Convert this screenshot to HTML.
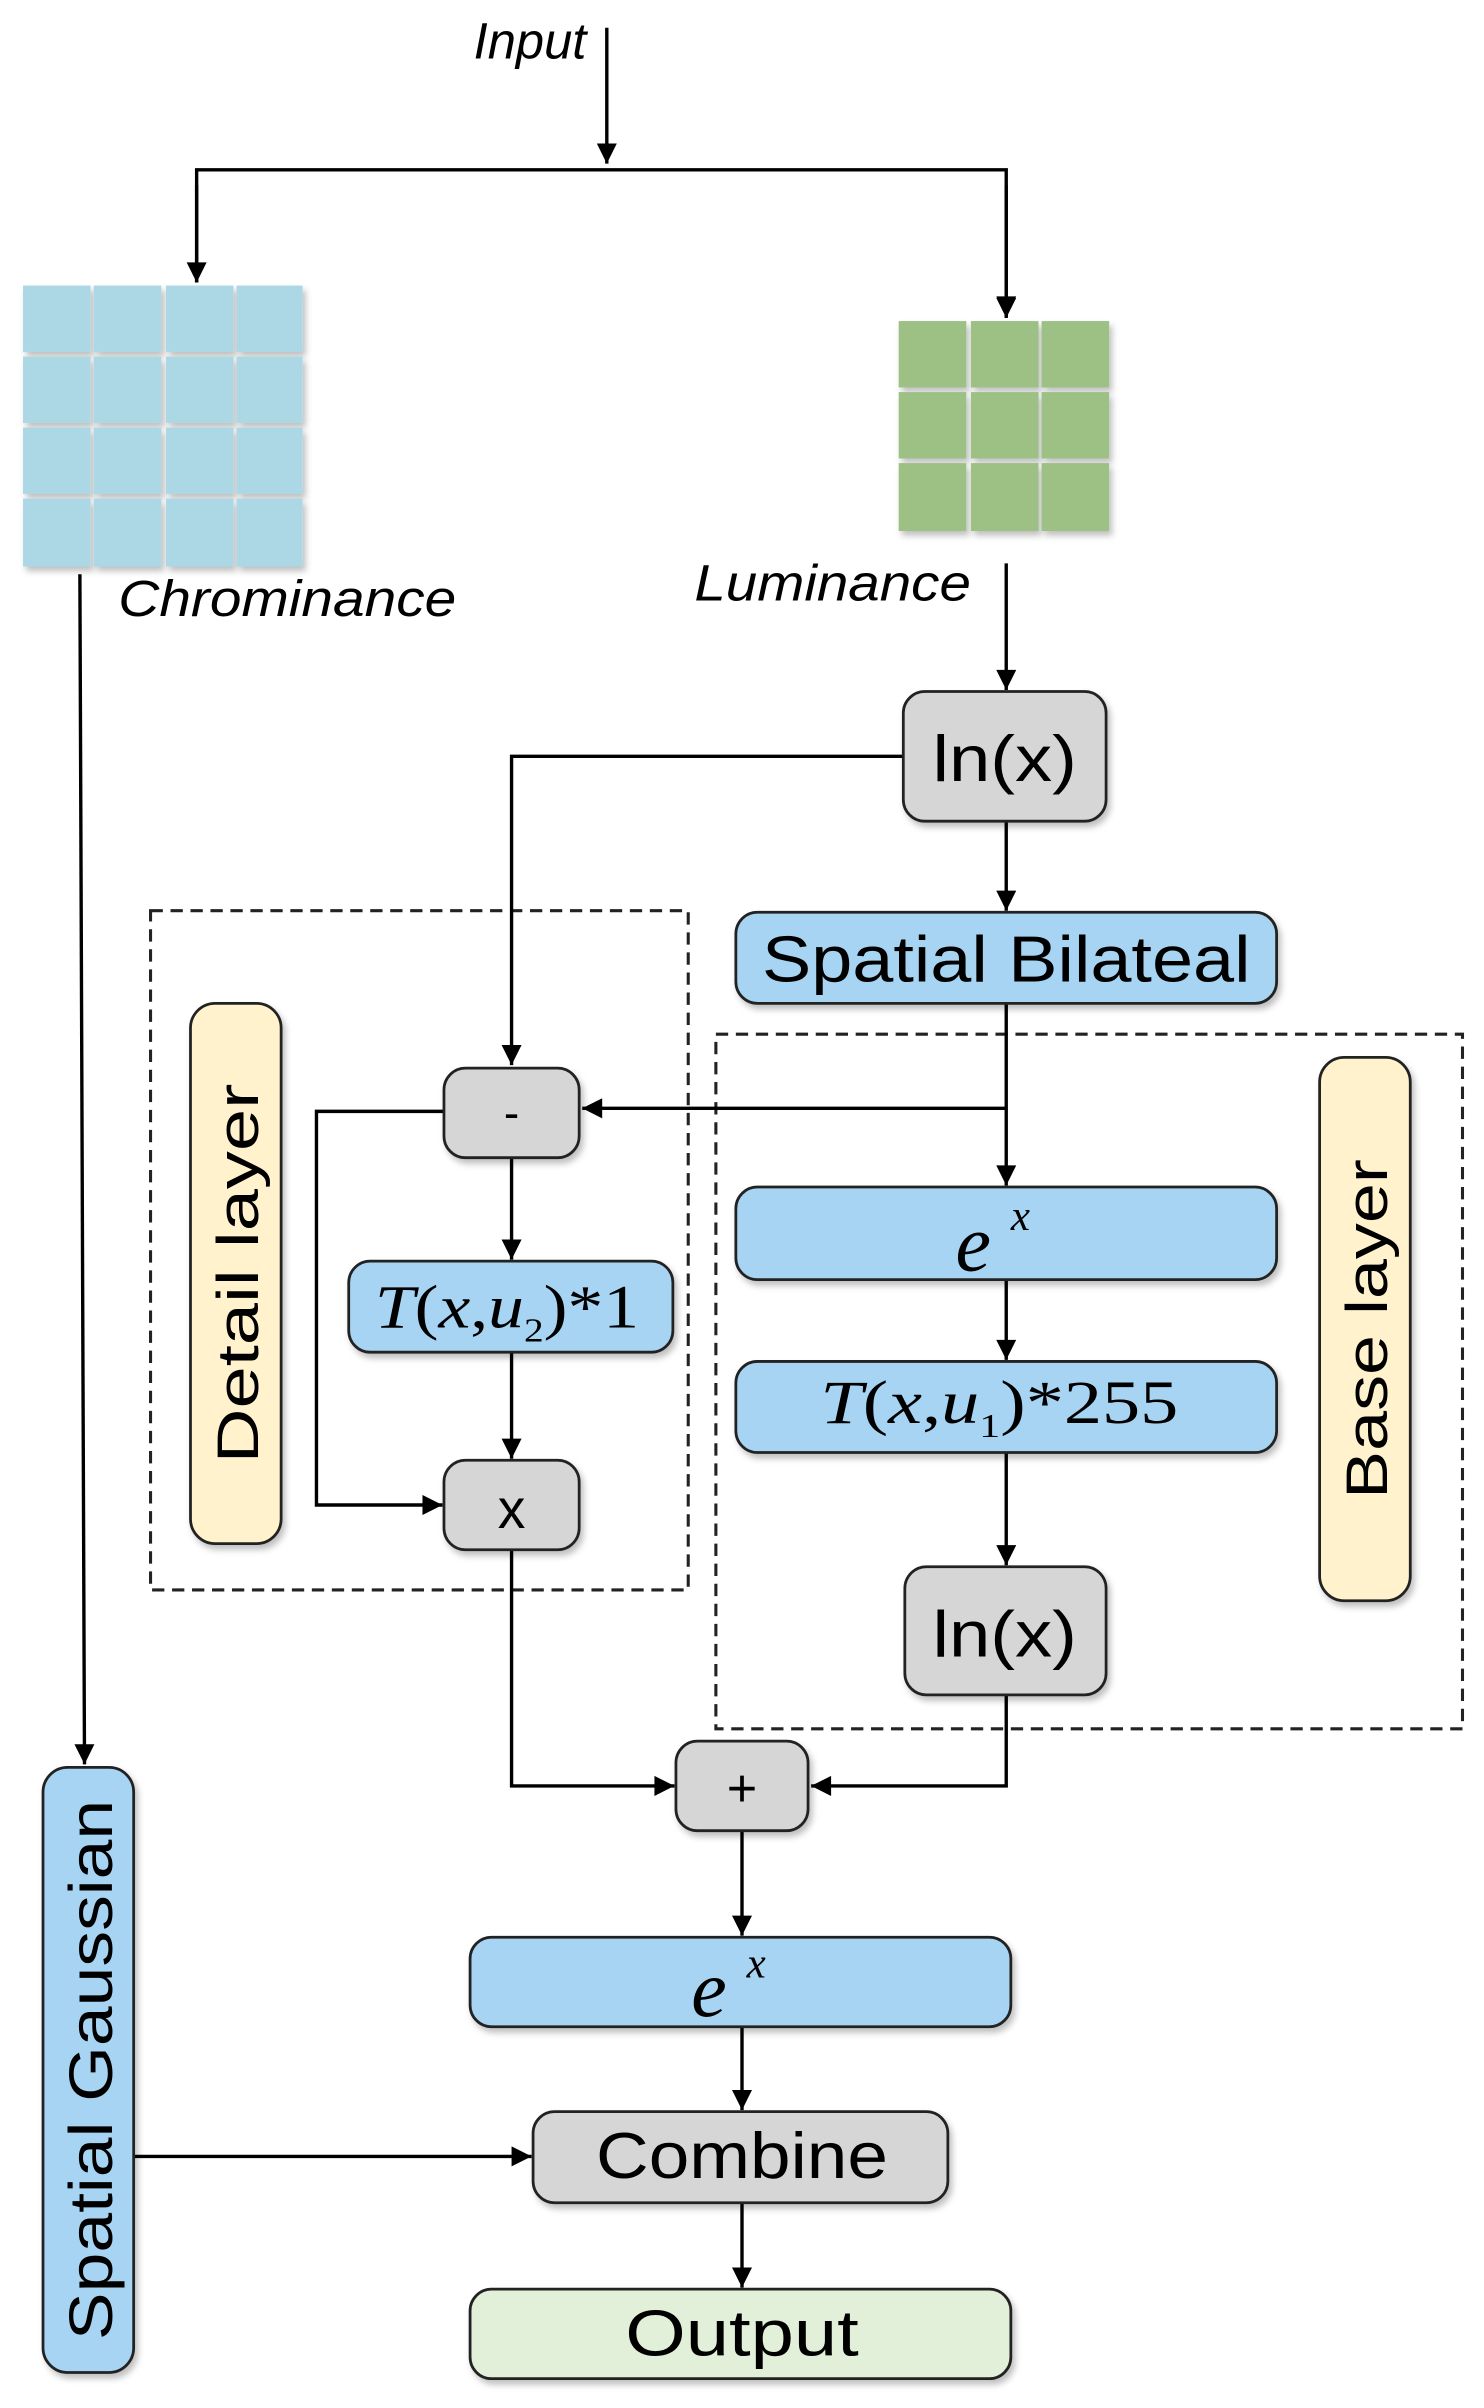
<!DOCTYPE html>
<html><head><meta charset="utf-8"><style>
html,body{margin:0;padding:0;background:#fff;}
svg{display:block;}
</style></head><body>
<svg width="1484" height="2408" viewBox="0 0 966 1560" preserveAspectRatio="none" xmlns="http://www.w3.org/2000/svg">
<defs>
<marker id="a" viewBox="0 0 10 10" refX="10" refY="5" markerWidth="15" markerHeight="13" markerUnits="userSpaceOnUse" orient="auto"><path d="M0,0 L10,5 L0,10 z" fill="#000"/></marker>
<filter id="sh" x="-10%" y="-10%" width="130%" height="140%"><feDropShadow dx="2" dy="3" stdDeviation="2" flood-color="#000" flood-opacity="0.25"/></filter>
</defs>
<g font-family="Liberation Sans, sans-serif">
<text x="345" y="38" font-size="33" font-style="italic" text-anchor="middle">Input</text>
<g stroke="#000" stroke-width="2.2" fill="none">
<line x1="395" y1="18" x2="395" y2="106" marker-end="url(#a)"/>
<polyline points="128,183 128,110 655,110 655,205" marker-end="url(#a)"/>
<line x1="128" y1="120" x2="128" y2="183" marker-end="url(#a)"/>
<line x1="655" y1="120" x2="655" y2="206" marker-end="url(#a)"/>
</g>
<g fill="#acd7e5" filter="url(#sh)">
<rect x="15" y="185" width="44" height="43"/><rect x="61" y="185" width="44" height="43"/><rect x="108" y="185" width="44" height="43"/><rect x="154" y="185" width="43" height="43"/>
<rect x="15" y="231" width="44" height="43"/><rect x="61" y="231" width="44" height="43"/><rect x="108" y="231" width="44" height="43"/><rect x="154" y="231" width="43" height="43"/>
<rect x="15" y="277" width="44" height="43"/><rect x="61" y="277" width="44" height="43"/><rect x="108" y="277" width="44" height="43"/><rect x="154" y="277" width="43" height="43"/>
<rect x="15" y="323" width="44" height="44"/><rect x="61" y="323" width="44" height="44"/><rect x="108" y="323" width="44" height="44"/><rect x="154" y="323" width="43" height="44"/>
</g>
<g fill="#9dc185" filter="url(#sh)">
<rect x="585" y="208" width="44" height="43"/><rect x="632" y="208" width="44" height="43"/><rect x="678" y="208" width="44" height="43"/>
<rect x="585" y="254" width="44" height="43"/><rect x="632" y="254" width="44" height="43"/><rect x="678" y="254" width="44" height="43"/>
<rect x="585" y="300" width="44" height="44"/><rect x="632" y="300" width="44" height="44"/><rect x="678" y="300" width="44" height="44"/>
</g>
<text x="77" y="399" font-size="33" font-style="italic" textLength="220" lengthAdjust="spacingAndGlyphs">Chrominance</text>
<text x="452" y="389" font-size="33" font-style="italic" textLength="180" lengthAdjust="spacingAndGlyphs">Luminance</text>
<g fill="none" stroke="#222" stroke-width="2" stroke-dasharray="8,5">
<rect x="98" y="590" width="350" height="440"/>
<rect x="466" y="670" width="486" height="450"/>
</g>
<g stroke="#000" stroke-width="2.2" fill="none">
<line x1="52" y1="372" x2="55" y2="1143" marker-end="url(#a)"/>
<line x1="655" y1="365" x2="655" y2="447" marker-end="url(#a)"/>
<polyline points="588,490 333,490 333,690" marker-end="url(#a)"/>
<line x1="655" y1="532" x2="655" y2="590" marker-end="url(#a)"/>
<line x1="655" y1="650" x2="655" y2="768" marker-end="url(#a)"/>
<line x1="655" y1="718" x2="379" y2="718" marker-end="url(#a)"/>
<polyline points="289,720 206,720 206,975 288,975" marker-end="url(#a)"/>
<line x1="333" y1="750" x2="333" y2="816" marker-end="url(#a)"/>
<line x1="333" y1="876" x2="333" y2="945" marker-end="url(#a)"/>
<line x1="655" y1="829" x2="655" y2="881" marker-end="url(#a)"/>
<line x1="655" y1="941" x2="655" y2="1014" marker-end="url(#a)"/>
<polyline points="333,1004 333,1157 439,1157" marker-end="url(#a)"/>
<polyline points="655,1098 655,1157 528,1157" marker-end="url(#a)"/>
<line x1="483" y1="1186" x2="483" y2="1254" marker-end="url(#a)"/>
<line x1="483" y1="1313" x2="483" y2="1367" marker-end="url(#a)"/>
<line x1="483" y1="1427" x2="483" y2="1482" marker-end="url(#a)"/>
<line x1="87" y1="1397" x2="346" y2="1397" marker-end="url(#a)"/>
</g>
<g stroke="#222" stroke-width="1.8" filter="url(#sh)">
<rect x="588" y="448" width="132" height="84" rx="14" fill="#d6d6d6"/>
<rect x="479" y="591" width="352" height="59" rx="14" fill="#a6d4f2"/>
<rect x="124" y="650" width="59" height="350" rx="16" fill="#fff2cc"/>
<rect x="859" y="685" width="59" height="352" rx="16" fill="#fff2cc"/>
<rect x="289" y="692" width="88" height="58" rx="14" fill="#d6d6d6"/>
<rect x="227" y="817" width="211" height="59" rx="14" fill="#a6d4f2"/>
<rect x="289" y="946" width="88" height="58" rx="14" fill="#d6d6d6"/>
<rect x="479" y="769" width="352" height="60" rx="14" fill="#a6d4f2"/>
<rect x="479" y="882" width="352" height="59" rx="14" fill="#a6d4f2"/>
<rect x="589" y="1015" width="131" height="83" rx="14" fill="#d6d6d6"/>
<rect x="440" y="1128" width="86" height="58" rx="14" fill="#d6d6d6"/>
<rect x="306" y="1255" width="352" height="58" rx="14" fill="#a6d4f2"/>
<rect x="347" y="1368" width="270" height="59" rx="14" fill="#d6d6d6"/>
<rect x="306" y="1483" width="352" height="58" rx="14" fill="#e2efd9"/>
<rect x="28" y="1145" width="59" height="392" rx="16" fill="#a6d4f2"/>
</g>
<text x="654" y="506" font-size="42" text-anchor="middle" textLength="94" lengthAdjust="spacingAndGlyphs">ln(x)</text>
<text x="655" y="636" font-size="42" text-anchor="middle" textLength="318" lengthAdjust="spacingAndGlyphs">Spatial Bilateal</text>
<text x="333" y="731" font-size="30" text-anchor="middle">-</text>
<text x="333" y="990" font-size="36" text-anchor="middle">x</text>
<text x="483" y="1170" font-size="34" text-anchor="middle">+</text>
<text x="654" y="1073" font-size="42" text-anchor="middle" textLength="94" lengthAdjust="spacingAndGlyphs">ln(x)</text>
<text x="483" y="1411" font-size="42" text-anchor="middle" textLength="190" lengthAdjust="spacingAndGlyphs">Combine</text>
<text x="483" y="1526" font-size="42" text-anchor="middle" textLength="152" lengthAdjust="spacingAndGlyphs">Output</text>
<text transform="translate(168,825) rotate(-90)" font-size="38" text-anchor="middle" textLength="246" lengthAdjust="spacingAndGlyphs">Detail layer</text>
<text transform="translate(903,861) rotate(-90)" font-size="38" text-anchor="middle" textLength="220" lengthAdjust="spacingAndGlyphs">Base layer</text>
<text transform="translate(73,1341) rotate(-90)" font-size="40" text-anchor="middle" textLength="350" lengthAdjust="spacingAndGlyphs">Spatial Gaussian</text>
</g>
<g font-family="Liberation Serif, serif" font-style="italic">
<text x="622" y="823" font-size="52">e</text><text x="658" y="797" font-size="28">x</text>
<text x="450" y="1306" font-size="52">e</text><text x="486" y="1281" font-size="28">x</text>
<text x="244" y="860" font-size="40" textLength="172" lengthAdjust="spacingAndGlyphs">T<tspan font-style="normal">(</tspan>x<tspan font-style="normal">,</tspan>u<tspan font-size="22" dy="9" font-style="normal">2</tspan><tspan dy="-9" font-style="normal">)*1</tspan></text>
<text x="534" y="922" font-size="40" textLength="233" lengthAdjust="spacingAndGlyphs">T<tspan font-style="normal">(</tspan>x<tspan font-style="normal">,</tspan>u<tspan font-size="22" dy="9" font-style="normal">1</tspan><tspan dy="-9" font-style="normal">)*255</tspan></text>
</g>
</svg>
</body></html>
